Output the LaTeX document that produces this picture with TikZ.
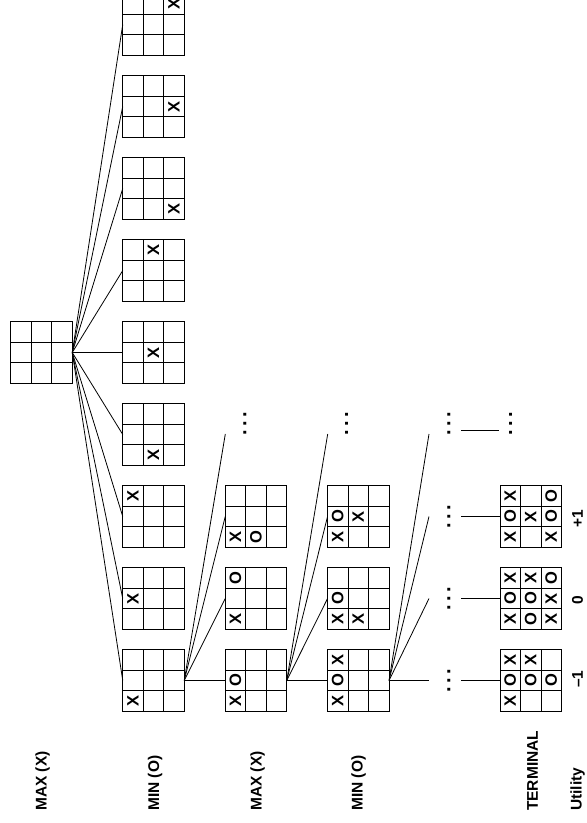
\documentclass[tikz,border=0pt]{standalone}
\usepackage{fontspec}
\setmainfont{Liberation Sans}
\usetikzlibrary{positioning,calc}

% one board: name, centre, marks as col/row/symbol
\newcommand{\board}[3]{%
  \node[board] (#1) at (#2) {};
  \foreach \cx/\cy/\cm in {#3}
    \node[xo] (#1-\cx\cy) at ([shift={({(\cx-1)*20.5},{(\cy-1)*20.5})}]#1.center) {\cm};
}
\newcommand{\elide}{.\kern3.4pt.\kern3.4pt.}

\begin{document}
\begin{tikzpicture}[
  x=1pt, y=-1pt,
  board/.style={draw, line width=1pt, minimum size=61.5pt, inner sep=0pt, outer sep=0pt,
                path picture={
                  \foreach \k in {-10.25,10.25} {
                    \draw[line width=1pt] ([xshift=\k pt]path picture bounding box.north)
                      -- ([xshift=\k pt]path picture bounding box.south);
                    \draw[line width=1pt] ([yshift=\k pt]path picture bounding box.west)
                      -- ([yshift=\k pt]path picture bounding box.east);
                  }}},
  xo/.style={font=\bfseries\fontsize{16.5}{16.5}\selectfont, rotate=90, inner sep=0pt},
  link/.style={line width=0.8pt},
  dotcol/.style={rotate=90, minimum height=24pt, inner sep=0pt,
                 font=\bfseries\fontsize{20}{20}\selectfont},
  plylabel/.style={font=\bfseries\fontsize{15.5}{16}\selectfont, rotate=90,
                   anchor=west, inner sep=0pt},
  utilval/.style={font=\bfseries\fontsize{15.5}{16}\selectfont, rotate=90, inner sep=0pt}
]
\useasboundingbox (0,0) rectangle (587,823);

\node[board] (root) at (41.5,352.5) {};

% first ply: the nine opening moves
\foreach \i/\c/\r in {1/2/0,2/2/1,3/2/2,4/1/0,5/1/1,6/1/2,7/0/0,8/0/1,9/0/2}
  {\board{a\i}{153.5,{352.5+82*(\i-5)}}{\c/\r/X}}

\board{b1}{256,516.5}{0/2/X,1/2/O}
\board{b2}{256,598.5}{0/0/O,0/2/X}
\board{b3}{256,680.5}{0/1/O,0/2/X}

\board{c1}{358.3,516.5}{0/1/O,1/1/X,0/2/X}
\board{c2}{358.3,598.5}{0/1/O,0/2/X,1/2/X}
\board{c3}{358.3,680.5}{0/0/X,0/1/O,0/2/X}

\board{t1}{530.8,516.5}{0/0/X,2/0/O,0/1/O,1/1/X,2/1/O,0/2/X,2/2/X}
\board{t2}{530.8,598.5}{0/0/X,1/0/X,2/0/O,0/1/O,1/1/O,2/1/X,0/2/X,1/2/O,2/2/X}
\board{t3}{530.8,680.5}{0/0/X,1/0/X,0/1/O,1/1/O,2/1/O,0/2/X}

% elided branches
\coordinate (b0) at (225.3,434);
\coordinate (c0) at (327.7,434);
\foreach \i/\y in {0/434,1/516.5,2/598.5,3/680.5}
  \coordinate (e\i) at (429,\y);
\node[dotcol] (d2) at (245,424) {\elide};
\node[dotcol] (d3) at (346.7,424) {\elide};
\node[dotcol] (f0) at (449,424) {\elide};
\node[dotcol] (f1) at (449,516.5) {\elide};
\node[dotcol] (f2) at (449,598.5) {\elide};
\node[dotcol] (f3) at (449,680.5) {\elide};
\node[dotcol] (g0) at (510.7,424) {\elide};

\foreach \i in {1,...,9}
  \draw[link] (root.east) -- (a\i.west);
\draw[link] (a9.east) -- (b0);
\foreach \i in {1,2,3}
  \draw[link] (a9.east) -- (b\i.west);
\draw[link] (b3.east) -- (c0);
\foreach \i in {1,2,3}
  \draw[link] (b3.east) -- (c\i.west);
\foreach \i in {0,...,3}
  \draw[link] (c3.east) -- (e\i);
% rotated dots: south is the right-hand side, north the left
\foreach \i in {1,2,3}
  \draw[link] (f\i.south) -- (t\i.west);
\draw[link] ([yshift=-6pt]f0.south) -- ([yshift=-6pt]g0.north);

% ply names and utilities
\node[plylabel] (lmax0) at (42.5,811) {MAX (X)};
\node[plylabel] (lmin1) at (155,811) {MIN (O)};
\node[plylabel] (lmax2) at (257.5,811) {MAX (X)};
\node[plylabel] (lmin3) at (358.5,811) {MIN (O)};
\node[plylabel] (lterm) at (532.5,811) {TERMINAL};
\node[plylabel] (lutil) at (577.5,811) {Utility};
\node[utilval] (u1) at (577.5,519) {+1};
\node[utilval] (u2) at (577.5,600) {0};
\node[utilval] (u3) at (577.5,679) {--1};
\end{tikzpicture}
\end{document}
